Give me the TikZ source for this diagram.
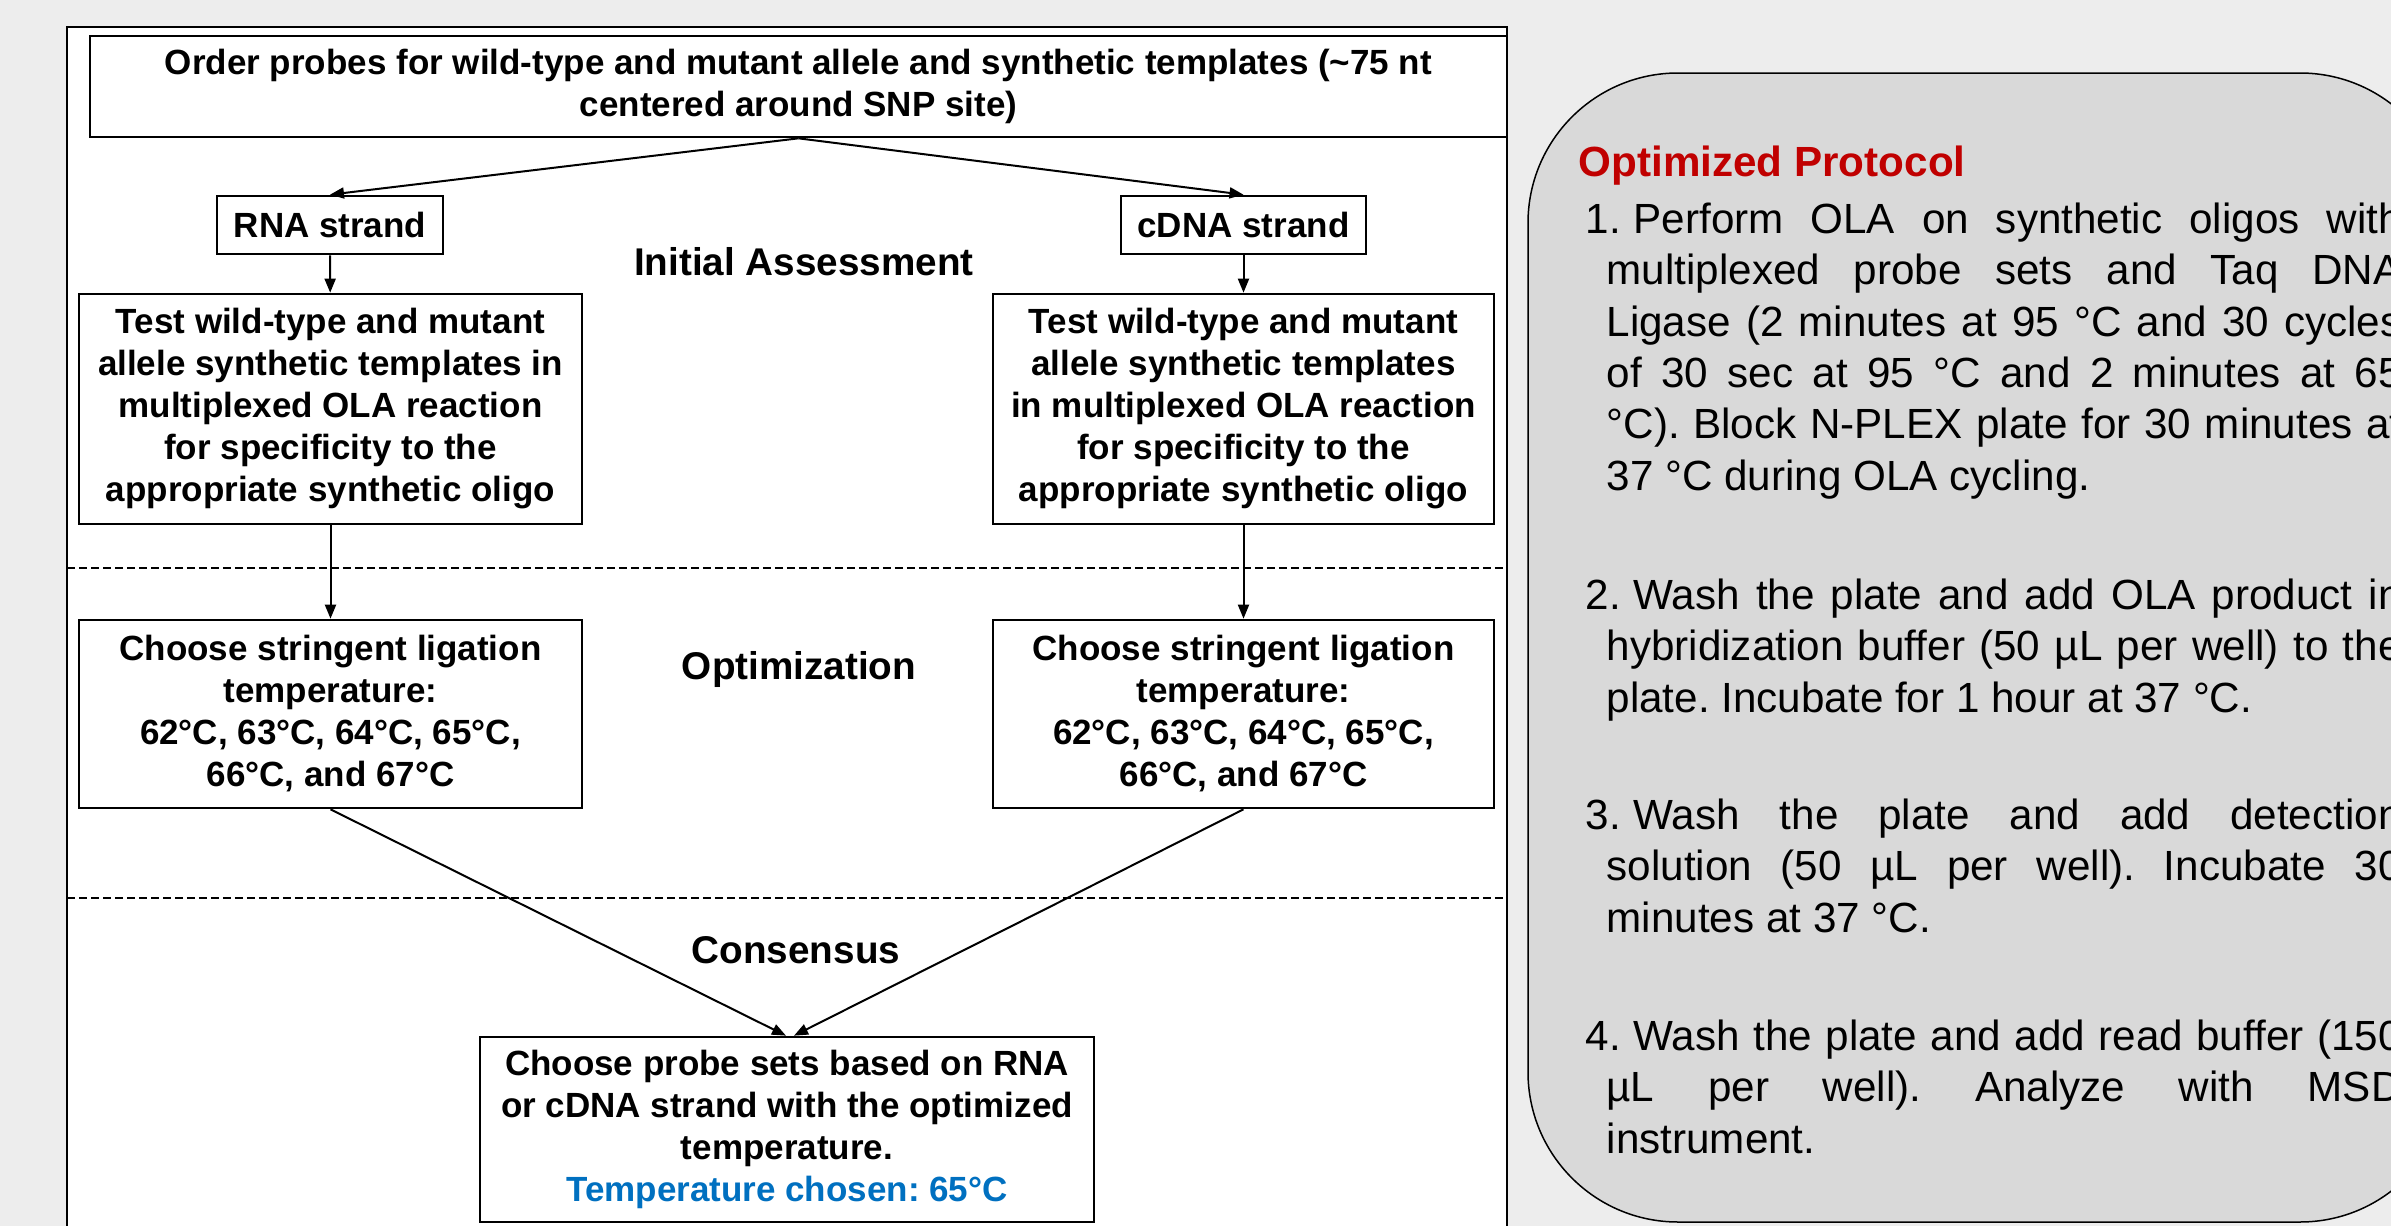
\documentclass[tikz,border=0pt]{standalone}
\usepackage{fontspec}
\setmainfont{Liberation Sans}
\usetikzlibrary{arrows.meta}
\frenchspacing

\definecolor{pagegray}{RGB}{237,237,237}
\definecolor{protocolgray}{RGB}{217,217,217}
\definecolor{protocolred}{RGB}{192,0,0}
\definecolor{chosenblue}{RGB}{0,112,192}

% justified protocol lines
\newcommand{\stepfirst}[2]{\makebox[14.4pt][l]{#1}\makebox[230.4pt][s]{#2}}
\newcommand{\stepfull}[1]{\hspace*{6.3pt}\makebox[238.5pt][s]{#1}}
\newcommand{\steplast}[1]{\hspace*{6.3pt}#1}

\begin{document}
\begin{tikzpicture}[x=0.3pt,y=-0.3pt,
  flowbox/.style={draw,line width=0.8pt,fill=white,inner sep=0pt,align=center,
    font=\bfseries\fontsize{10.5}{12.6}\selectfont},
  stagelabel/.style={inner sep=0pt,font=\bfseries\fontsize{11.6}{13.9}\selectfont},
  flowarrow/.style={line width=0.6pt,-{Triangle[length=4.2pt,width=3.3pt]}},
  stageline/.style={line width=0.6pt,dash pattern=on 2.4pt off 1.2pt},
  steptext/.style={anchor=base west,inner sep=0pt,align=left,
    font=\fontsize{12.66}{15.4}\selectfont}]
\useasboundingbox (0,0) rectangle (2391,1226);
\clip (0,0) rectangle (2391,1226);
\fill[pagegray] (0,0) rectangle (2391,1226);

%Flowchart panel
\draw[line width=0.6pt,fill=white] (67,27) rectangle (1507,1240);
\draw[stageline] (67,568) -- (1507,568);
\draw[stageline] (67,898) -- (1507,898);

%Boxes
\node[flowbox,minimum width=425.1pt,minimum height=30.3pt] (order) at (798.5,86.5)
  {Order probes for wild-type and mutant allele and synthetic templates (\textasciitilde75 nt\\centered around SNP site)};
\node[flowbox,minimum width=67.8pt,minimum height=17.4pt] (rna) at (330,225) {RNA strand};
\node[flowbox,minimum width=73.5pt,minimum height=17.4pt] (cdna) at (1243.5,225) {cDNA strand};
\node[flowbox,minimum width=150.9pt,minimum height=69pt] (testrna) at (330.5,409)
  {Test wild-type and mutant\\allele synthetic templates in\\multiplexed OLA reaction\\for specificity to the\\appropriate synthetic oligo};
\node[flowbox,minimum width=150.3pt,minimum height=69pt] (testcdna) at (1243.5,409)
  {Test wild-type and mutant\\allele synthetic templates\\in multiplexed OLA reaction\\for specificity to the\\appropriate synthetic oligo};
\node[flowbox,minimum width=150.9pt,minimum height=56.4pt] (temprna) at (330.5,714)
  {Choose stringent ligation\\temperature:\\62°C, 63°C, 64°C, 65°C,\\66°C, and 67°C};
\node[flowbox,minimum width=150.3pt,minimum height=56.4pt] (tempcdna) at (1243.5,714)
  {Choose stringent ligation\\temperature:\\62°C, 63°C, 64°C, 65°C,\\66°C, and 67°C};
\node[flowbox,minimum width=184.2pt,minimum height=55.5pt] (consensus) at (787,1129.5)
  {Choose probe sets based on RNA\\or cDNA strand with the optimized\\temperature.\\\textcolor{chosenblue}{Temperature chosen: 65°C}};

%Stage labels
\node[stagelabel] (initial) at (804,262) {Initial Assessment};
\node[stagelabel] (optim) at (799,669) {Optimization};
\node[stagelabel] (consens) at (796,950) {Consensus};

%Connectors
\draw[flowarrow] (order.south) -- (rna.north);
\draw[flowarrow] (order.south) -- (cdna.north);
\draw[flowarrow] (rna) -- (testrna);
\draw[flowarrow] (cdna) -- (testcdna);
\draw[flowarrow] (testrna) -- (temprna);
\draw[flowarrow] (testcdna) -- (tempcdna);
\draw[flowarrow] (temprna.south) -- ([xshift=-0.3pt]consensus.north);
\draw[flowarrow] (tempcdna.south) -- ([xshift=2.1pt]consensus.north);

%Protocol panel (nodes anchored at the baseline of their last line)
\draw[line width=0.45pt,fill=protocolgray,rounded corners=45pt] (1528,73) rectangle (2450,1222);
\node[anchor=base west,inner sep=0pt,text=protocolred,font=\bfseries\fontsize{12.66}{15.4}\selectfont]
  (title) at (1578,176) {Optimized Protocol};
\node[steptext] (stepA) at (1585,490)
  {\stepfirst{1.}{Perform OLA on synthetic oligos with}\\
   \stepfull{multiplexed probe sets and Taq DNA}\\
   \stepfull{Ligase (2 minutes at 95 °C and 30 cycles}\\
   \stepfull{of 30 sec at 95 °C and 2 minutes at 65}\\
   \stepfull{°C). Block N-PLEX plate for 30 minutes at}\\
   \steplast{37 °C during OLA cycling.}};
\node[steptext] (stepB) at (1585,712)
  {\stepfirst{2.}{Wash the plate and add OLA product in}\\
   \stepfull{hybridization buffer (50 µL per well) to the}\\
   \steplast{plate. Incubate for 1 hour at 37 °C.}};
\node[steptext] (stepC) at (1585,932)
  {\stepfirst{3.}{Wash the plate and add detection}\\
   \stepfull{solution (50 µL per well). Incubate 30}\\
   \steplast{minutes at 37 °C.}};
\node[steptext] (stepD) at (1585,1153)
  {\stepfirst{4.}{Wash the plate and add read buffer (150}\\
   \stepfull{µL per well). Analyze with MSD}\\
   \steplast{instrument.}};

\end{tikzpicture}
\end{document}
